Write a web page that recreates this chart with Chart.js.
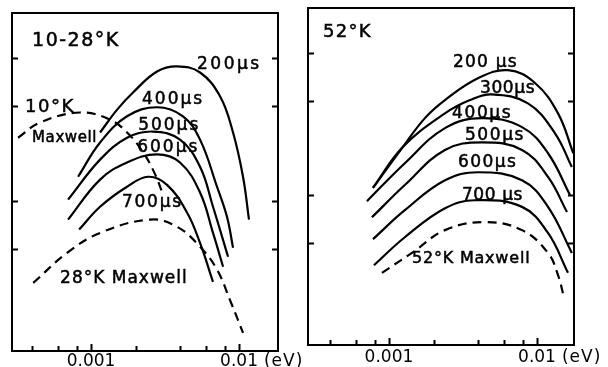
<!DOCTYPE html>
<html>
<head>
<meta charset="utf-8">
<script src="https://cdn.jsdelivr.net/npm/chart.js@4.4.1/dist/chart.umd.min.js"></script>
<style>
  html, body { margin: 0; padding: 0; background: #fff; overflow: hidden; }
  body { width: 608px; height: 367px; position: relative; }
  canvas { position: absolute; top: 0; }
  #left { left: 0; }
  #right { left: 290px; }
</style>
</head>
<body>
<canvas id="left" width="320" height="367"></canvas>
<canvas id="right" width="318" height="367"></canvas>
<script>
// energy in eV, intensity in arbitrary units
const xTicks = [0.0004, 0.0006, 0.0008, 0.001, 0.002, 0.004, 0.006, 0.008, 0.01];
const xTickLabels = ['', '', '', '0.001', '', '', '', '', '0.01'];
const xUnit = '(eV)';
const yTicks = [2.15, 3.15, 5.15, 6.15];

// 10-28 K panel
const l200 = [[0.00115,4.59],[0.0015,5.07],[0.00192,5.43],[0.00279,5.87],[0.00381,5.98],[0.00545,5.85],[0.00744,5.35],[0.00911,4.59],[0.01064,3.66],[0.01168,2.76]];
const l400 = [[0.000817,3.66],[0.00115,4.38],[0.00175,4.93],[0.00279,5.12],[0.00418,4.93],[0.00545,4.44],[0.0071,3.45],[0.00829,2.82],[0.00911,2.17]];
const l500 = [[0.000699,3.18],[0.00115,4.02],[0.00175,4.48],[0.00262,4.61],[0.00399,4.44],[0.00545,3.87],[0.00667,3.03],[0.00843,1.98]];
const l600 = [[0.000699,2.76],[0.00115,3.6],[0.00175,3.96],[0.00279,4.13],[0.00399,3.96],[0.00545,3.33],[0.00667,2.48],[0.0078,1.77]];
const l700 = [[0.00083,2.55],[0.00115,3.03],[0.00175,3.45],[0.00243,3.66],[0.00326,3.49],[0.00445,2.91],[0.00545,2.27],[0.00667,1.45]];
const l10K = [[0.000321,4.48],[0.000452,4.8],[0.000843,5.01],[0.00134,4.86],[0.00175,4.59],[0.00225,4.17],[0.00271,3.71],[0.00307,3.28]];
const l28K = [[0.000406,1.43],[0.000688,2.06],[0.00115,2.48],[0.0025,2.76],[0.00381,2.61],[0.00545,2.19],[0.0071,1.71],[0.00869,1.07],[0.01064,0.38]];

// 52 K panel
const r200 = [[0.00078,3.31],[0.00124,4.17],[0.00175,4.78],[0.00239,5.16],[0.00399,5.62],[0.00637,5.79],[0.00969,5.52],[0.01387,4.88],[0.0176,4.04]];
const r300 = [[0.00078,3.31],[0.00124,4.17],[0.00239,4.88],[0.00353,5.16],[0.00496,5.28],[0.00869,5.09],[0.01323,4.46],[0.0172,3.75]];
const r400 = [[0.00071,3.03],[0.00128,3.83],[0.00239,4.57],[0.00425,4.78],[0.00792,4.59],[0.01187,4.04],[0.0167,3.16]];
const r500 = [[0.000767,2.69],[0.00128,3.37],[0.00239,4.11],[0.00425,4.27],[0.00792,4.11],[0.01187,3.54],[0.01595,2.8]];
const r600 = [[0.00078,2.23],[0.00128,2.84],[0.00239,3.47],[0.00399,3.64],[0.00792,3.47],[0.01187,2.91],[0.0172,1.94]];
const r700 = [[0.000792,1.68],[0.00128,2.27],[0.00239,2.88],[0.00381,3.05],[0.00792,2.91],[0.01187,2.36],[0.0162,1.52]];
const r52K = [[0.000897,1.52],[0.00143,1.94],[0.00239,2.42],[0.00445,2.59],[0.00792,2.42],[0.01187,1.94],[0.01387,1.47],[0.0152,1.01]];

const FONT = 'DejaVu Sans';
const TICK_SIZE = 17;

function line(pts, dashed) {
  return {
    data: pts.map(p => ({ x: p[0], y: p[1] })),
    borderColor: '#000',
    borderWidth: 2.2,
    borderDash: dashed ? [9, 6] : [],
    pointRadius: 0,
    fill: false,
    tension: 0.4
  };
}

// frame, inward ticks, curve labels and the (eV) unit
const decor = {
  id: 'decor',
  afterDraw(chart, args, opts) {
    const { ctx, chartArea: a } = chart;
    const xs = chart.scales.x, ys = chart.scales.y;
    ctx.save();
    ctx.strokeStyle = '#000';
    ctx.lineWidth = 2;
    ctx.setLineDash([]);
    ctx.strokeRect(a.left, a.top, a.right - a.left, a.bottom - a.top);
    ctx.beginPath();
    xTicks.forEach((v, i) => {
      const px = Math.round(xs.getPixelForValue(v)) + 0.5;
      const len = xTickLabels[i] ? 7 : 5;
      ctx.moveTo(px, a.bottom);
      ctx.lineTo(px, a.bottom - len);
    });
    yTicks.forEach(v => {
      const py = Math.round(ys.getPixelForValue(v)) + 0.5;
      ctx.moveTo(a.left, py); ctx.lineTo(a.left + 6, py);
      ctx.moveTo(a.right, py); ctx.lineTo(a.right - 6, py);
    });
    ctx.stroke();

    ctx.fillStyle = '#000';
    ctx.strokeStyle = '#000';
    ctx.lineWidth = 0.5;
    ctx.textAlign = 'left';
    ctx.textBaseline = 'alphabetic';
    opts.notes.forEach(n => {
      ctx.font = n.size + 'px "' + FONT + '"';
      ctx.letterSpacing = n.sp + 'px';
      const px = xs.getPixelForValue(n.x), py = ys.getPixelForValue(n.y);
      ctx.fillText(n.t, px, py);
      ctx.strokeText(n.t, px, py);
    });

    // unit after the last labelled tick, on the tick-label row
    ctx.font = TICK_SIZE + 'px "' + FONT + '"';
    ctx.letterSpacing = '1px';
    const px = xs.getPixelForValue(0.01);
    const w = ctx.measureText('0.01').width;
    ctx.textBaseline = 'middle';
    ctx.fillText(xUnit, px + w / 2 + 4, a.bottom + opts.labelPad + TICK_SIZE * 0.6);
    ctx.restore();
  }
};

function makeChart(id, series, xmin, xmax, pad, axisH, labelPad, notes) {
  return new Chart(document.getElementById(id), {
    type: 'line',
    data: { datasets: series },
    options: {
      responsive: false,
      animation: false,
      layout: { padding: pad },
      plugins: {
        legend: { display: false },
        tooltip: { enabled: false },
        decor: { notes: notes, labelPad: labelPad }
      },
      scales: {
        x: {
          type: 'logarithmic',
          min: xmin,
          max: xmax,
          grid: { display: false, drawTicks: false },
          border: { display: false },
          afterBuildTicks: s => { s.ticks = xTicks.map(v => ({ value: v })); },
          afterFit: s => { s.height = axisH; s.paddingLeft = 0; s.paddingRight = 0; },
          ticks: {
            autoSkip: false,
            maxRotation: 0,
            padding: labelPad,
            color: '#000',
            font: { family: FONT, size: TICK_SIZE },
            callback: (v, i) => xTickLabels[i]
          }
        },
        y: { type: 'linear', display: false, min: 0, max: 7.1 }
      }
    },
    plugins: [decor]
  });
}

makeChart('left',
  [line(l200), line(l400), line(l500), line(l600), line(l700), line(l10K, true), line(l28K, true)],
  0.000292, 0.01834,
  { left: 12, top: 13, right: 42, bottom: 0 }, 16, 0,
  [
    { t: '10-28°K', x: 0.000399, y: 6.40, size: 19, sp: 1.5 },
    { t: '200μs', x: 0.0052, y: 5.92, size: 17, sp: 2.5 },
    { t: '10°K', x: 0.000358, y: 5.03, size: 18, sp: 1.5 },
    { t: '400μs', x: 0.00221, y: 5.18, size: 17, sp: 2 },
    { t: 'Maxwell', x: 0.000399, y: 4.38, size: 15, sp: 0.6 },
    { t: '500μs', x: 0.00208, y: 4.65, size: 17, sp: 2 },
    { t: '600μs', x: 0.00205, y: 4.19, size: 17, sp: 2 },
    { t: '700μs', x: 0.00162, y: 3.03, size: 17, sp: 1.7 },
    { t: '28°K Maxwell', x: 0.000617, y: 1.43, size: 17, sp: 1 }
  ]);

makeChart('right',
  [line(r200), line(r300), line(r400), line(r500), line(r600), line(r700), line(r52K, true)],
  0.000284, 0.01778,
  { left: 18, top: 8, right: 34, bottom: 0 }, 22, 2,
  [
    { t: '52°K', x: 0.000358, y: 6.48, size: 18, sp: 1.3 },
    { t: '200 μs', x: 0.00271, y: 5.85, size: 17, sp: 1.2 },
    { t: '300μs', x: 0.00412, y: 5.31, size: 17, sp: 0.6 },
    { t: '400μs', x: 0.00267, y: 4.78, size: 17, sp: 1.6 },
    { t: '500μs', x: 0.00326, y: 4.32, size: 17, sp: 1.6 },
    { t: '600μs', x: 0.00293, y: 3.75, size: 17, sp: 1.4 },
    { t: '700 μs', x: 0.00311, y: 3.05, size: 17, sp: 0.6 },
    { t: '52°K Maxwell', x: 0.00143, y: 1.73, size: 16, sp: 0.8 }
  ]);
</script>
</body>
</html>
